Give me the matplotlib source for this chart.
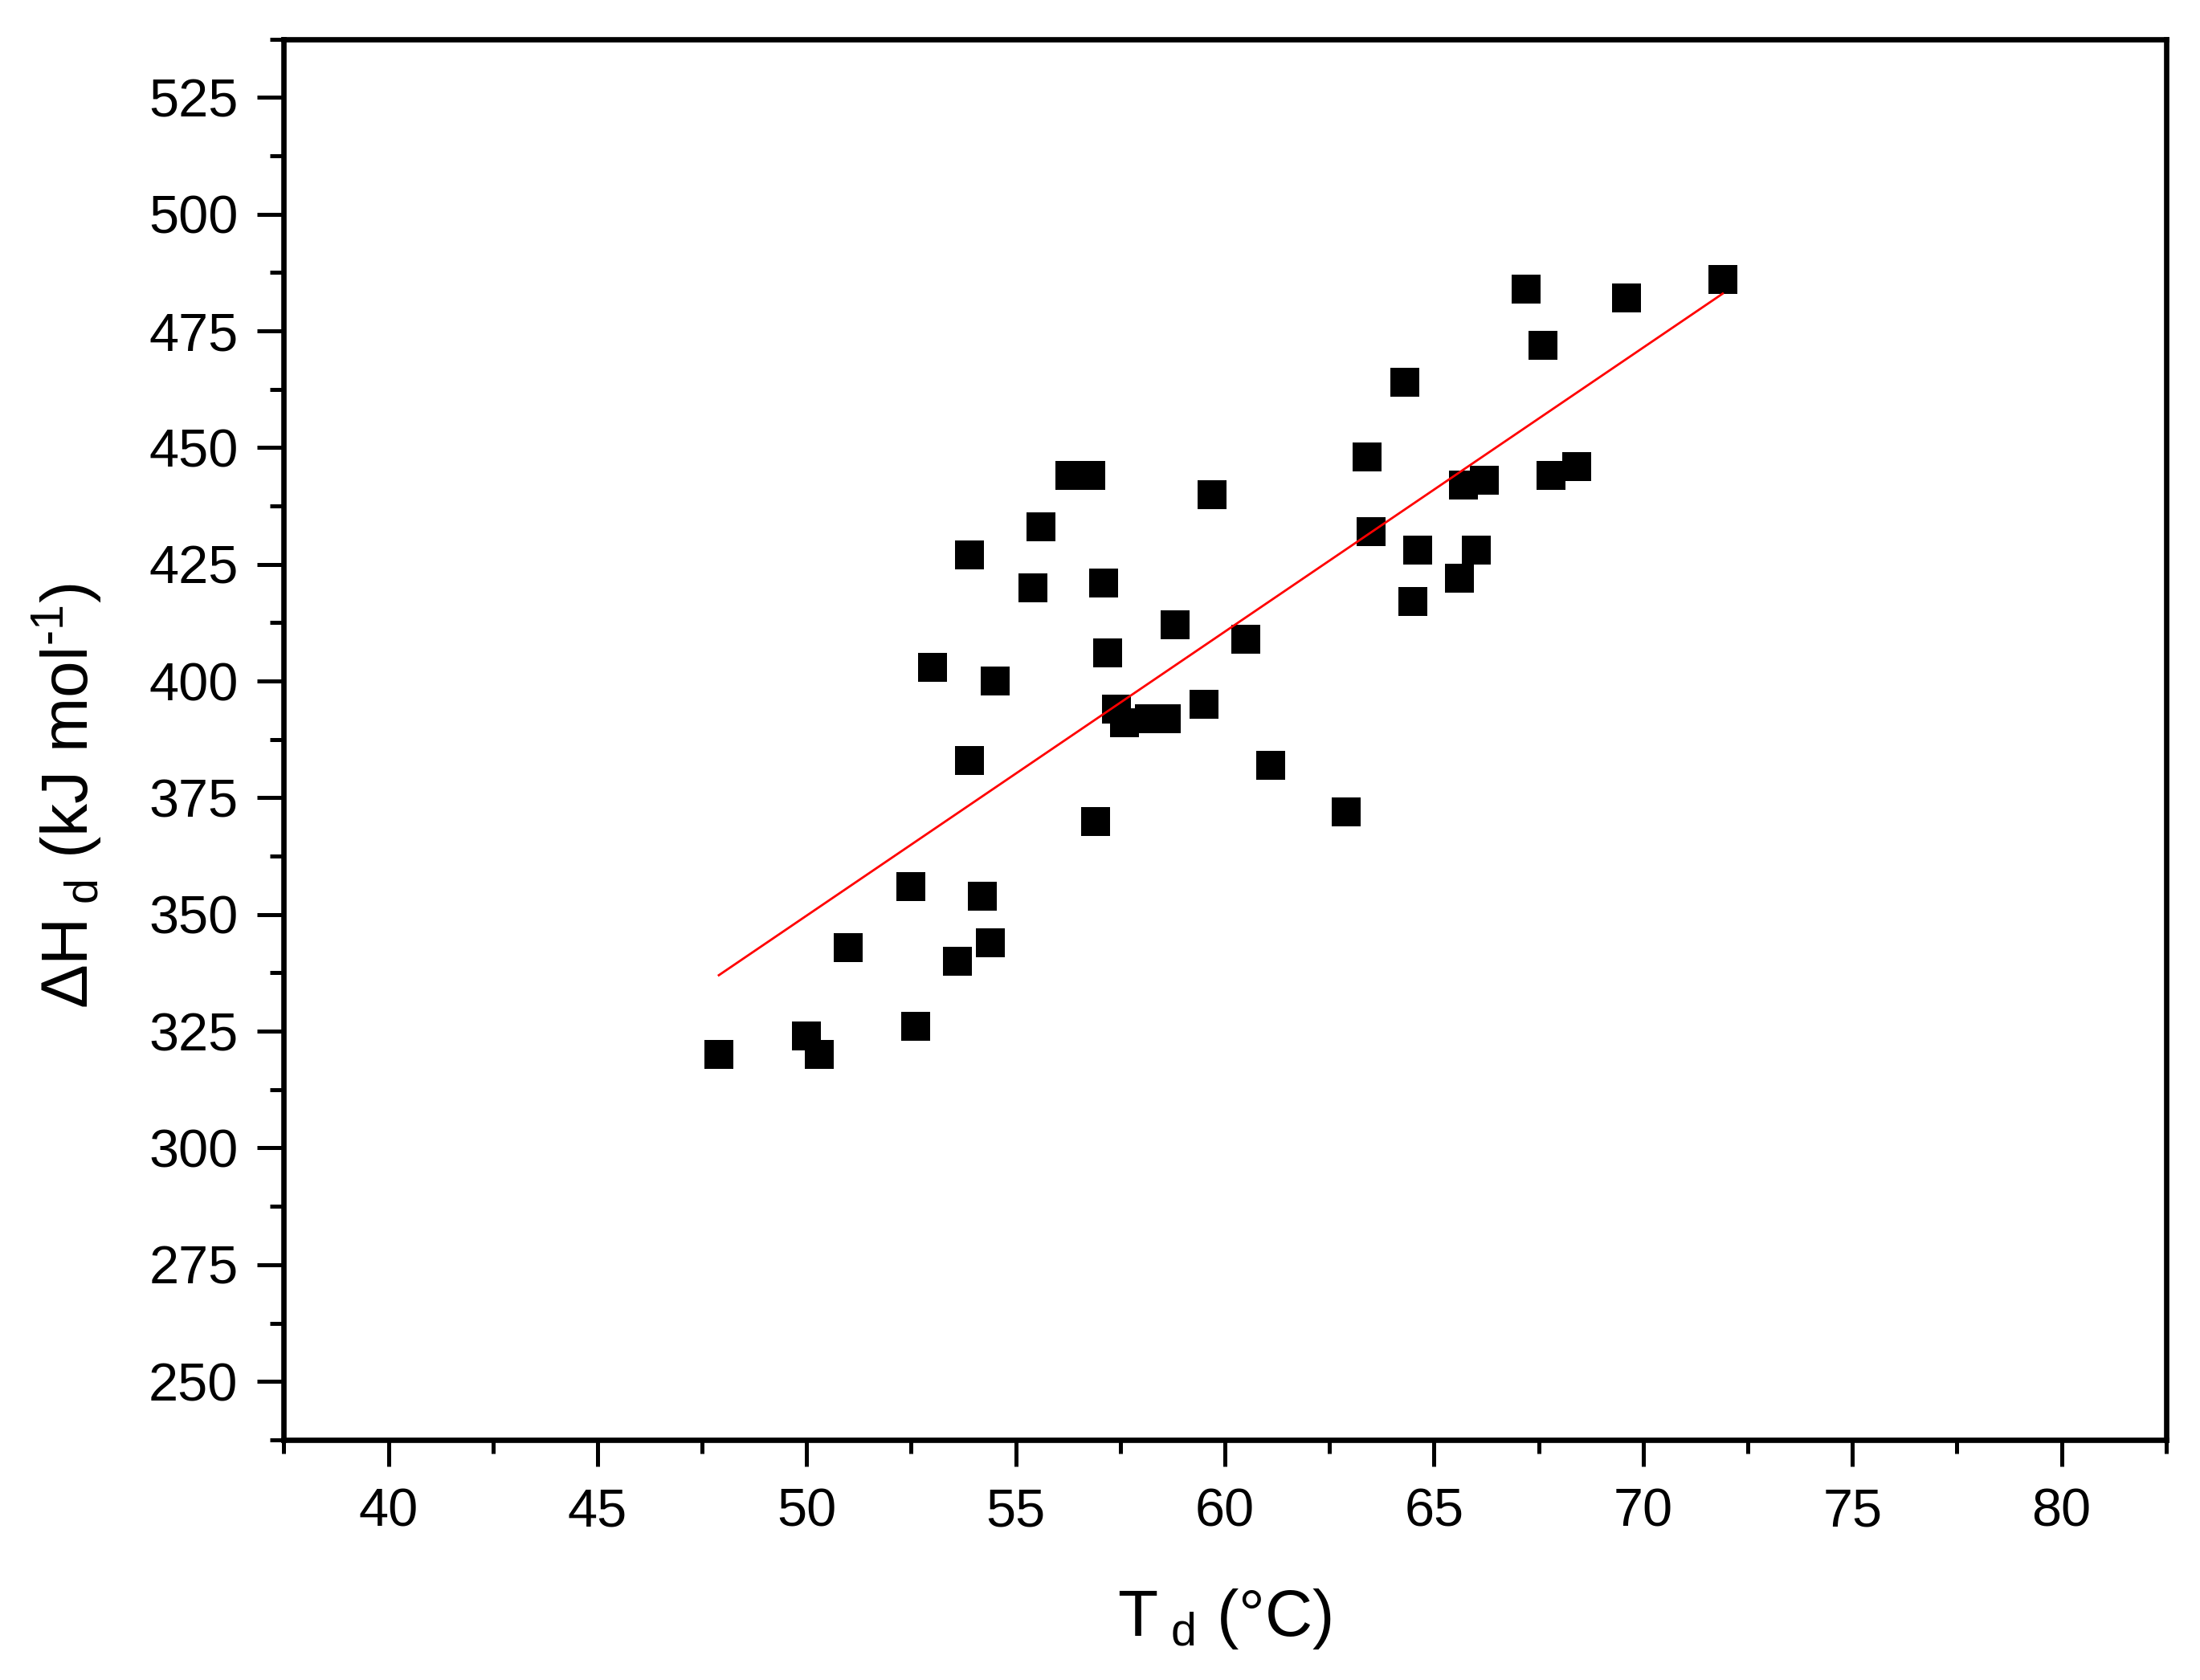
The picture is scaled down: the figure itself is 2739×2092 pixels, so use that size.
import matplotlib
matplotlib.use("Agg")
import matplotlib.pyplot as plt
from matplotlib.ticker import MultipleLocator
import numpy as np

# melting temperature (°C) and enthalpy (kJ/mol)
td = [47.9, 50.0, 50.3, 51.0, 52.5, 52.6, 53.0, 53.6, 53.9, 53.9,
      54.2, 54.4, 54.5, 55.4, 55.6, 56.3, 56.8, 56.9, 57.1, 57.2,
      57.4, 57.6, 58.2, 58.6, 58.8, 59.5, 59.7, 60.5, 61.1, 62.9,
      63.4, 63.5, 64.3, 64.5, 64.6, 65.6, 65.7, 66.0, 66.2, 67.2,
      67.6, 67.8, 68.4, 69.6, 71.9]
dh = [320, 324, 320, 343, 356, 326, 403, 340, 427, 383,
      354, 344, 400, 420, 433, 444, 444, 370, 421, 406,
      394, 391, 392, 392, 412, 395, 440, 409, 382, 372,
      448, 432, 464, 417, 428, 422, 442, 428, 443, 484,
      472, 444, 446, 482, 486]

# linear fit end points
fit_x = [47.9, 71.9]
fit_y = [337, 483]

plt.rcParams['font.family'] = ['Liberation Sans', 'DejaVu Sans']
plt.rcParams['mathtext.fontset'] = 'custom'
plt.rcParams['mathtext.rm'] = 'Liberation Sans'
plt.rcParams['mathtext.it'] = 'Liberation Sans'

fig = plt.figure(figsize=(27.39, 20.92), dpi=100)
ax = fig.add_axes([0.129, 0.143, 0.8556, 0.8337])

ax.plot(td, dh, 's', color='black', markersize=26.6, markeredgewidth=0)
ax.plot(fit_x, fit_y, '-', color='#ff0000', linewidth=2)

ax.set_xlim(37.5, 82.5)
ax.set_ylim(237.5, 537.5)
ax.xaxis.set_major_locator(MultipleLocator(5))
ax.xaxis.set_minor_locator(MultipleLocator(2.5))
ax.yaxis.set_major_locator(MultipleLocator(25))
ax.yaxis.set_minor_locator(MultipleLocator(12.5))

for s in ax.spines.values():
    s.set_linewidth(4.8)
ax.tick_params(which='major', direction='out', length=24, width=3.6,
               labelsize=48, top=False, right=False)
ax.tick_params(which='minor', direction='out', length=12, width=3.6,
               top=False, right=False)
ax.tick_params(axis='y', which='major', pad=17)
ax.tick_params(axis='x', which='major', pad=19)

ax.set_xlabel(r'T$_{\mathregular{\ d}}$ (°C)', fontsize=59, labelpad=44)
ax.set_ylabel(r'ΔH$_{\mathregular{\ d}}$ (kJ mol$^{\text{-1}}$)', fontsize=59, labelpad=40)
ax.yaxis.label.set_y(0.46)

fig.savefig('out.png', dpi=100)
